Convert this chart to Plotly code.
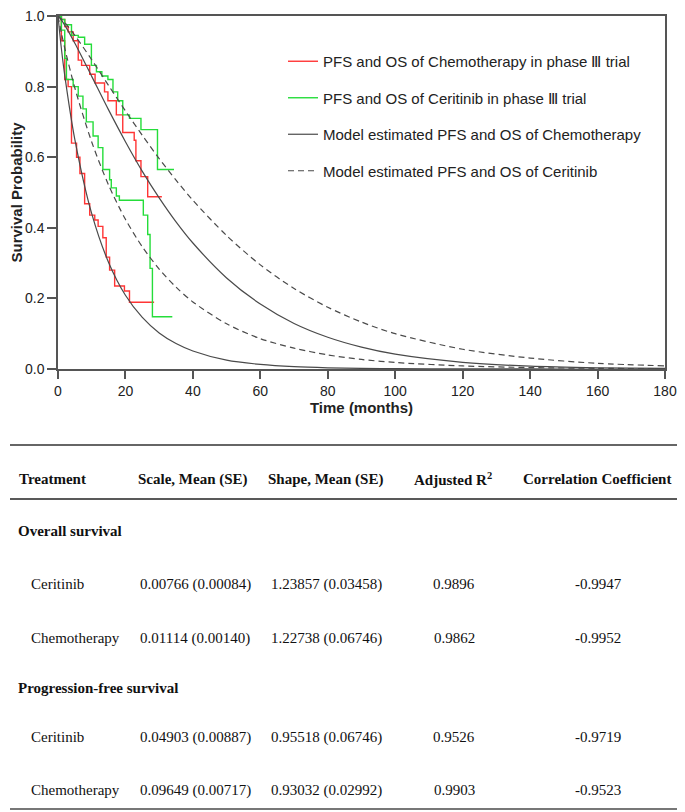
import plotly.graph_objects as go

# ---- Kaplan-Meier curves ----
chemo_os_t = [0, 1, 2, 3, 4.5, 6, 7, 9.4, 11, 13.8, 14.8, 17.3, 19.2, 22.6, 23.1, 24.6, 26.6, 30.8]
chemo_os_s = [1, 0.99, 0.97, 0.955, 0.93, 0.875, 0.86, 0.835, 0.81, 0.785, 0.76, 0.72, 0.67, 0.648, 0.59, 0.545, 0.488, 0.488]

chemo_pfs_t = [0, 1, 2, 3, 4, 5.5, 6.5, 7.9, 9.4, 10.9, 11.9, 13.3, 14.3, 15.3, 16.8, 19.7, 21.2, 28.5]
chemo_pfs_s = [1, 0.93, 0.82, 0.80, 0.64, 0.60, 0.554, 0.468, 0.436, 0.422, 0.404, 0.372, 0.317, 0.28, 0.235, 0.221, 0.189, 0.189]

cer_os_t = [0, 1, 2, 4, 6, 7.9, 9.9, 11.4, 13, 14.8, 16.3, 17.7, 19.2, 21.2, 24.6, 29.5, 34.4]
cer_os_s = [1, 0.99, 0.975, 0.945, 0.94, 0.92, 0.86, 0.842, 0.83, 0.82, 0.785, 0.76, 0.72, 0.71, 0.678, 0.565, 0.565]

cer_pfs_t = [0, 1, 2, 2.5, 4.5, 6, 7.4, 8.4, 10.4, 11.9, 13.3, 15.3, 15.8, 17.3, 18.2, 25.3, 26.6, 27.3, 28, 33.9]
cer_pfs_s = [1, 0.96, 0.88, 0.82, 0.80, 0.773, 0.737, 0.70, 0.66, 0.627, 0.565, 0.536, 0.513, 0.49, 0.478, 0.436, 0.381, 0.285, 0.148, 0.148]

# ---- model (Weibull) curves ----
model_t = [0, 1, 2, 5, 10, 15, 20, 25, 30, 35, 40, 50, 60, 70, 80, 90, 100, 120, 140, 160, 180]
model_chemo_os = [1, 0.989, 0.974, 0.923, 0.829, 0.734, 0.644, 0.560, 0.485, 0.417, 0.357, 0.258, 0.184,
                  0.129, 0.090, 0.062, 0.042, 0.019, 0.008, 0.0035, 0.0015]
model_chemo_pfs = [1, 0.908, 0.832, 0.650, 0.440, 0.302, 0.209, 0.146, 0.102, 0.072, 0.051, 0.025, 0.013,
                   0.0066, 0.0034, 0.0018, 0.0009, 0.0003, 0.0001, 0.0, 0.0]
model_cer_os = [1, 0.992, 0.982, 0.945, 0.876, 0.803, 0.731, 0.662, 0.596, 0.535, 0.478, 0.378, 0.295,
                0.228, 0.175, 0.133, 0.100, 0.056, 0.031, 0.016, 0.009]
model_cer_pfs = [1, 0.952, 0.909, 0.796, 0.643, 0.521, 0.424, 0.346, 0.283, 0.232, 0.190, 0.128, 0.086,
                 0.059, 0.040, 0.027, 0.0185, 0.0087, 0.0041, 0.0019, 0.0009]

# ---- table ----
table_headers = ["Treatment", "Scale, Mean (SE)", "Shape, Mean (SE)", "Adjusted R<sup>2</sup>", "Correlation Coefficient"]
sections = ["Overall survival", "Progression-free survival"]
row_names = ["Ceritinib", "Chemotherapy", "Ceritinib", "Chemotherapy"]
scale_vals = ["0.00766 (0.00084)", "0.01114 (0.00140)", "0.04903 (0.00887)", "0.09649 (0.00717)"]
shape_vals = ["1.23857 (0.03458)", "1.22738 (0.06746)", "0.95518 (0.06746)", "0.93032 (0.02992)"]
adj_r2 = ["0.9896", "0.9862", "0.9526", "0.9903"]
corr_vals = ["-0.9947", "-0.9952", "-0.9719", "-0.9523"]

# the page body keeps its default 8px margin, so the figure is 8px smaller than the window
OFF = 8
W, H = 685 - OFF, 812 - OFF
RED = "#ff3535"
GREEN = "#25dd3a"
GREY = "#4a4a4a"


def px(x):
    return (x - OFF) / W


def py(y):
    return 1 - (y - OFF) / H


fig = go.Figure()

km = [
    (chemo_os_t, chemo_os_s, RED, "km_chemo", "PFS and OS of Chemotherapy in phase \u2162 trial", True),
    (chemo_pfs_t, chemo_pfs_s, RED, "km_chemo", "Chemotherapy PFS (trial)", False),
    (cer_os_t, cer_os_s, GREEN, "km_cer", "PFS and OS of Ceritinib in phase \u2162 trial", True),
    (cer_pfs_t, cer_pfs_s, GREEN, "km_cer", "Ceritinib PFS (trial)", False),
]
for t, s, col, grp, name, show in km:
    fig.add_trace(go.Scatter(x=t, y=s, mode="lines", line=dict(color=col, width=1.4, shape="hv"),
                             legendgroup=grp, name=name, showlegend=show))

models = [
    (model_chemo_os, "solid", "model_chemo", "Model estimated PFS and OS of Chemotherapy", True),
    (model_chemo_pfs, "solid", "model_chemo", "Chemotherapy PFS (model)", False),
    (model_cer_os, "6px,4px", "model_cer", "Model estimated PFS and OS of Ceritinib", True),
    (model_cer_pfs, "6px,4px", "model_cer", "Ceritinib PFS (model)", False),
]
for s, dash, grp, name, show in models:
    fig.add_trace(go.Scatter(x=model_t, y=s, mode="lines",
                             line=dict(color=GREY, width=1.2, dash=dash, shape="spline", smoothing=0.8),
                             legendgroup=grp, name=name, showlegend=show))

# table rules
for y, w, c in [(445, 2, "#666"), (499, 1.5, "#222"), (809, 2, "#777")]:
    fig.add_shape(type="line", xref="paper", yref="paper", x0=px(10), x1=px(677), y0=py(y), y1=py(y),
                  line=dict(color=c, width=w))

SERIF = "Liberation Serif, Times New Roman, serif"


def cell(text, x, y, anchor="left", bold=False):
    fig.add_annotation(text=f"<b>{text}</b>" if bold else text, x=px(x), y=py(y), xref="paper", yref="paper",
                       xanchor=anchor, yanchor="middle", showarrow=False, borderpad=0,
                       font=dict(family=SERIF, size=15, color="#111"))


# header row
header_pos = [(18, "left"), (137, "left"), (267, "left"), (453, "center"), (597, "center")]
for txt, (x, a) in zip(table_headers, header_pos):
    cell(txt, x, 479, a, bold=True)

section_y = [531, 688]
row_y = [584, 638, 737, 790]
for txt, y in zip(sections, section_y):
    cell(txt, 17, y, bold=True)
for i, y in enumerate(row_y):
    cell(row_names[i], 30, y)
    cell(scale_vals[i], 139, y)
    cell(shape_vals[i], 270, y)
    cell(adj_r2[i], 454, y, "center")
    cell(corr_vals[i], 598, y, "center")

axis_common = dict(showline=True, linecolor="#555", linewidth=1.5, mirror=True, ticks="outside",
                   tickcolor="#555", tickwidth=1.5, showgrid=False, zeroline=False, automargin=False,
                   ticklabeloverflow="allow", tickfont=dict(size=14, color="#222"))

fig.update_layout(
    width=W, height=H,
    margin=dict(l=0, r=0, t=0, b=0, autoexpand=False),
    paper_bgcolor="white", plot_bgcolor="white",
    font=dict(family="Liberation Sans, Arial, sans-serif", size=14, color="#222"),
    xaxis=dict(domain=[px(58), px(665)], range=[0, 180], tickvals=list(range(0, 181, 20)), ticklen=8,
               title=dict(text="<b>Time (months)</b>", font=dict(size=15), standoff=4), **axis_common),
    yaxis=dict(domain=[py(369), py(16)], range=[0, 1], tickvals=[0, 0.2, 0.4, 0.6, 0.8, 1.0], tickformat=".1f",
               ticklen=9, title=dict(text="<b>Survival Probability</b>", font=dict(size=15), standoff=2),
               **axis_common),
    showlegend=True,
    legend=dict(x=px(283), y=py(45), xanchor="left", yanchor="top", bgcolor="rgba(0,0,0,0)",
                font=dict(size=15, color="#222"), tracegroupgap=14, traceorder="grouped"),
)

fig.write_html("out.html")
